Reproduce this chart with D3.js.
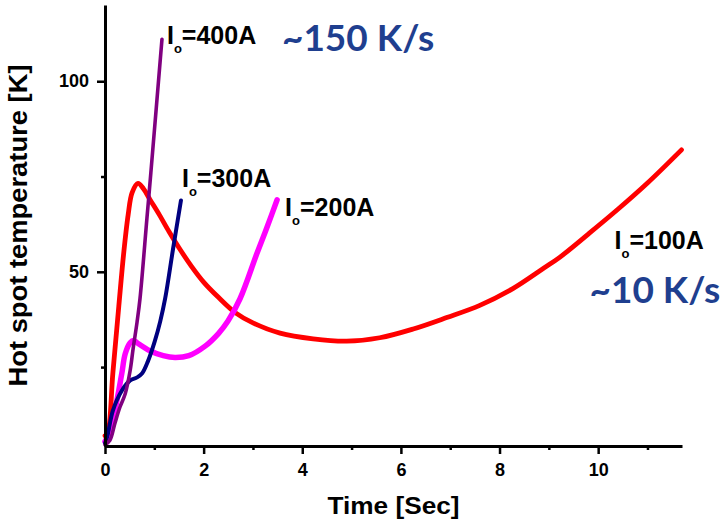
<!DOCTYPE html>
<html>
<head>
<meta charset="utf-8">
<script src="https://cdn.jsdelivr.net/npm/d3@7"></script>
<style>
  html, body { margin: 0; padding: 0; background: #fff; }
  svg { display: block; }
</style>
</head>
<body>
<svg id="chart" width="721" height="529"></svg>
<script>
// Hot spot temperature vs time for four operating currents
const time100 = [0, 0.05, 0.16, 0.28, 0.38, 0.47, 0.55, 0.67, 0.78, 0.91, 1.1, 1.3, 1.5, 1.75, 2.0, 2.3, 2.64, 3.0, 3.55, 4.22, 4.9, 5.57, 6.25, 6.93, 7.6, 8.27, 8.9, 9.22, 9.8, 10.4, 11.0, 11.69];
const temp100 = [7.0, 7.5, 23.5, 41.0, 55.0, 65.0, 70.8, 73.2, 71.8, 69.0, 65.0, 60.5, 56.3, 51.5, 47.3, 43.3, 39.3, 36.6, 33.9, 32.4, 31.8, 32.7, 35.0, 38.0, 41.2, 45.6, 51.0, 53.8, 59.9, 66.4, 73.3, 82.0];

const time200 = [0, 0.06, 0.2, 0.34, 0.41, 0.51, 0.58, 0.65, 0.91, 1.18, 1.42, 1.7, 2.03, 2.3, 2.49, 2.74, 3.08, 3.3, 3.49];
const temp200 = [5.5, 7.0, 13.6, 23.3, 28.5, 31.4, 32.0, 31.4, 29.3, 28.0, 27.5, 28.0, 30.5, 33.8, 37.0, 43.0, 54.8, 62.2, 68.9];

const time300 = [0, 0.05, 0.16, 0.34, 0.51, 0.65, 0.75, 0.87, 1.01, 1.12, 1.22, 1.38, 1.54];
const temp300 = [5.0, 7.0, 13.6, 18.8, 21.5, 22.3, 23.3, 26.5, 31.8, 37.0, 43.0, 56.0, 68.7];

const time400 = [0, 0.1, 0.2, 0.3, 0.41, 0.51, 0.57, 0.65, 0.71, 0.85, 0.93, 1.155];
const temp400 = [4.6, 5.8, 10.2, 14.4, 18.0, 24.1, 29.8, 36.8, 43.0, 64.0, 76.0, 111.0];

const currents = ["100A", "200A", "300A", "400A"];
const rates = ["~10 K/s", "~150 K/s"];
const xTicks = [0, 2, 4, 6, 8, 10];
const xMinorTicks = [1, 3, 5, 7, 9, 11];
const yTicks = [50, 100];
const yMinorTicks = [25, 75];

const svg = d3.select("#chart");
const W = 721, H = 529;
const plot = { left: 105, right: 682, top: 5, bottom: 446 };

const x = d3.scaleLinear().domain([0, 11.7]).range([plot.left, plot.right]);
const y = d3.scaleLinear().domain([4.3, 120]).range([plot.bottom, plot.top]);

svg.append("rect").attr("width", W).attr("height", H).attr("fill", "#fff");

const series = [
  { name: currents[0], t: time100, v: temp100, color: "#ff0000", width: 4.8 },
  { name: currents[1], t: time200, v: temp200, color: "#ff00ff", width: 5.5 },
  { name: currents[2], t: time300, v: temp300, color: "#000080", width: 4 },
  { name: currents[3], t: time400, v: temp400, color: "#800080", width: 3.6 }
];

const line = d3.line()
  .x(d => x(d[0]))
  .y(d => y(d[1]))
  .curve(d3.curveCatmullRom.alpha(0.5));

const curves = svg.append("g").attr("class", "curves");
series.forEach(s => {
  const pts = s.t.map((t, i) => [t, s.v[i]]);
  curves.append("path")
    .datum(pts)
    .attr("fill", "none")
    .attr("stroke", s.color)
    .attr("stroke-width", s.width)
    .attr("stroke-linejoin", "round")
    .attr("stroke-linecap", "round")
    .attr("d", line);
});

// Axes
const tickFont = "'Liberation Sans', Arial, sans-serif";

svg.append("g")
  .attr("transform", `translate(0,${plot.bottom})`)
  .call(d3.axisBottom(x).tickValues(xTicks).tickSize(8).tickSizeOuter(0).tickPadding(9).tickFormat(d3.format("d")));
svg.append("g")
  .attr("transform", `translate(0,${plot.bottom})`)
  .call(d3.axisBottom(x).tickValues(xMinorTicks).tickSize(4).tickSizeOuter(0).tickFormat(""))
  .select(".domain").remove();

svg.append("g")
  .attr("transform", `translate(${plot.left},0)`)
  .call(d3.axisLeft(y).tickValues(yTicks).tickSize(8).tickSizeOuter(0).tickPadding(8).tickFormat(d3.format("d")));
svg.append("g")
  .attr("transform", `translate(${plot.left},0)`)
  .call(d3.axisLeft(y).tickValues(yMinorTicks).tickSize(4).tickSizeOuter(0).tickFormat(""))
  .select(".domain").remove();

svg.selectAll(".domain").attr("stroke", "#000").attr("stroke-width", 3);
svg.selectAll(".tick line").attr("stroke", "#000").attr("stroke-width", 2.5);
svg.selectAll(".tick text")
  .attr("fill", "#000")
  .style("font-family", tickFont)
  .style("font-weight", "bold")
  .style("font-size", "18px");

// Axis titles
svg.append("text")
  .attr("x", (plot.left + plot.right) / 2)
  .attr("y", 514)
  .attr("text-anchor", "middle")
  .attr("textLength", 132)
  .attr("lengthAdjust", "spacingAndGlyphs")
  .style("font-family", tickFont)
  .style("font-weight", "bold")
  .style("font-size", "24px")
  .text("Time [Sec]");

svg.append("text")
  .attr("transform", `translate(27,${(plot.top + plot.bottom) / 2}) rotate(-90)`)
  .attr("text-anchor", "middle")
  .attr("textLength", 322)
  .attr("lengthAdjust", "spacingAndGlyphs")
  .style("font-family", tickFont)
  .style("font-weight", "bold")
  .style("font-size", "25px")
  .text("Hot spot temperature [K]");

// Current labels "I_o=...", placed next to each curve's end point
function currentLabel(px, py, amps) {
  const t = svg.append("text")
    .attr("x", px)
    .attr("y", py)
    .style("font-family", tickFont)
    .style("font-weight", "bold")
    .style("font-size", "25px")
    .attr("fill", "#000");
  t.append("tspan").text("I");
  t.append("tspan").attr("dy", 9).style("font-size", "13px").text("o");
  t.append("tspan").attr("dy", -9).text("=" + amps);
}

const end = s => [x(s.t[s.t.length - 1]), y(s.v[s.v.length - 1])];
const [e400x, e400y] = end(series[3]);
const [e300x, e300y] = end(series[2]);
const [e200x, e200y] = end(series[1]);
const [e100x, e100y] = end(series[0]);

currentLabel(e400x + 5, e400y + 5, currents[3]);
currentLabel(e300x + 1, e300y - 14, currents[2]);
currentLabel(e200x + 8, e200y + 16, currents[1]);
currentLabel(e100x - 67, e100y + 99, currents[0]);

// Heating-rate annotations
const rateFont = "Lato, 'Open Sans', sans-serif";
svg.append("text")
  .attr("x", e400x + 120)
  .attr("y", e400y + 12)
  .style("font-family", rateFont)
  .style("font-weight", "bold")
  .style("font-size", "37px")
  .attr("fill", "#1f3f8f")
  .text(rates[1]);

svg.append("text")
  .attr("x", e100x - 92)
  .attr("y", e100y + 153)
  .style("font-family", rateFont)
  .style("font-weight", "bold")
  .style("font-size", "37px")
  .attr("fill", "#1f3f8f")
  .text(rates[0]);
</script>
</body>
</html>
